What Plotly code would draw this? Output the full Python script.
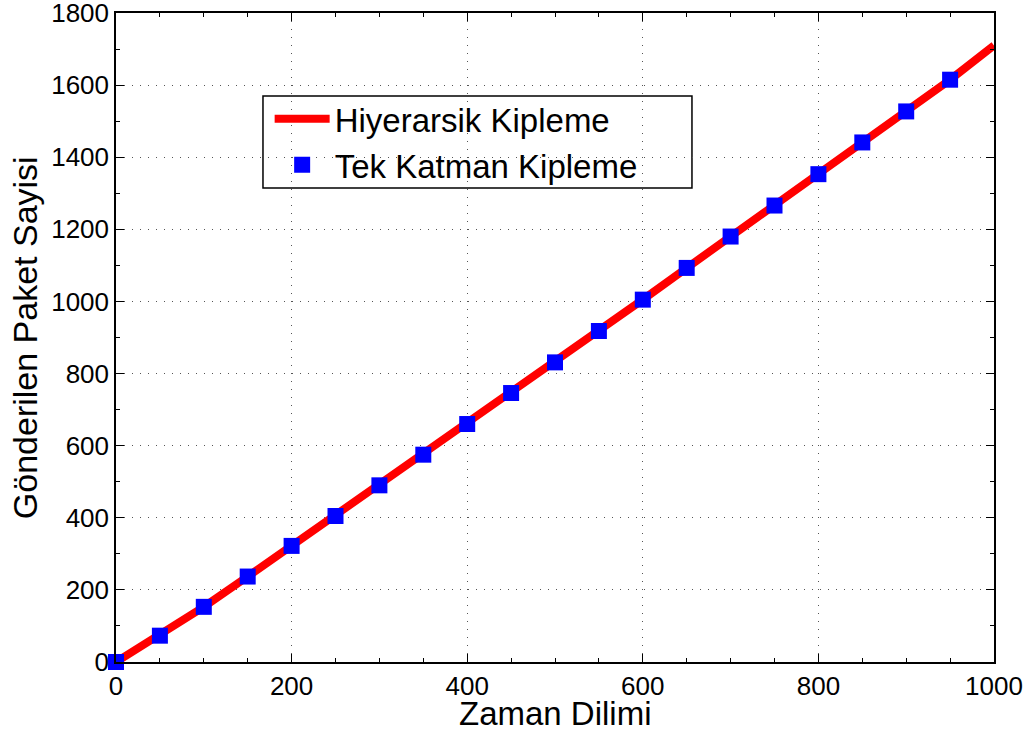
import plotly.graph_objects as go

# Time slots and cumulative packet counts
zaman = [0, 50, 100, 150, 200, 250, 300, 350, 400, 450, 500,
         550, 600, 650, 700, 750, 800, 850, 900, 950, 1000]
hiyerarsik = [0, 74, 153, 237, 322, 405, 490, 575, 660, 746, 831,
              918, 1005, 1093, 1180, 1266, 1353, 1441, 1527, 1615, 1710]

tek_zaman = [0, 50, 100, 150, 200, 250, 300, 350, 400, 450,
             500, 550, 600, 650, 700, 750, 800, 850, 900, 950]
tek_katman = [0, 73, 153, 237, 322, 405, 490, 575, 660, 746,
              831, 918, 1005, 1093, 1180, 1266, 1353, 1441, 1527, 1615]

x_ticks = [0, 200, 400, 600, 800, 1000]
y_ticks = [0, 200, 400, 600, 800, 1000, 1200, 1400, 1600, 1800]

fig = go.Figure()
fig.add_trace(go.Scatter(
    x=zaman, y=hiyerarsik, mode="lines", name="Hiyerarsik Kipleme",
    line=dict(color="#ff0000", width=8), cliponaxis=False,
))
fig.add_trace(go.Scatter(
    x=tek_zaman, y=tek_katman, mode="markers", name="Tek Katman Kipleme",
    marker=dict(symbol="square", size=16, color="#0000ff",
                line=dict(width=0)), cliponaxis=False,
))

font = "Liberation Sans, Arial, sans-serif"
axis_common = dict(
    showline=True, linecolor="black", linewidth=1.5, mirror="ticks",
    ticks="inside", ticklen=8, tickwidth=1, tickcolor="black",
    showgrid=True, gridcolor="#555555", griddash="1px,7px", gridwidth=1,
    zeroline=False, automargin=False, ticklabeloverflow="allow",
    tickfont=dict(family=font, size=26, color="black"),
    minor=dict(ticks="inside", ticklen=4, tickcolor="black", showgrid=False),
)

fig.update_layout(
    width=1035, height=735,
    margin=dict(l=116, r=41, t=13, b=73),
    paper_bgcolor="white", plot_bgcolor="white",
    font=dict(family=font, color="black"),
    xaxis=dict(range=[0, 1000], tickvals=x_ticks, **axis_common),
    yaxis=dict(range=[0, 1800], tickvals=y_ticks, **axis_common),
    legend=dict(
        x=0.175, y=0.88, xanchor="left", yanchor="top",
        bgcolor="rgba(0,0,0,0)", borderwidth=0,
        font=dict(size=33, family=font), itemwidth=55,
        tracegroupgap=0,
    ),
    showlegend=True,
    annotations=[
        dict(text="Zaman Dilimi", xref="paper", yref="paper",
             x=0.5, y=-0.079, xanchor="center", yanchor="middle",
             showarrow=False, font=dict(size=33, family=font)),
        dict(text="Gönderilen Paket Sayisi", xref="paper", yref="paper",
             x=-0.104, y=0.5, xanchor="center", yanchor="middle",
             textangle=-90, showarrow=False, font=dict(size=34, family=font)),
    ],
    shapes=[
        # legend frame
        dict(type="rect", xref="paper", yref="paper",
             x0=0.1674, x1=0.656, y0=0.7304, y1=0.872,
             line=dict(color="black", width=1.5), fillcolor="white",
             layer="below"),
    ],
)

fig.write_html("out.html")
